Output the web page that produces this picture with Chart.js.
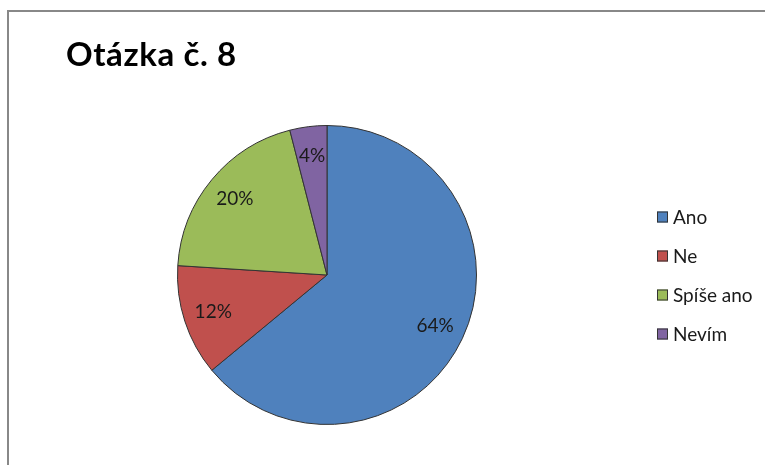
<!DOCTYPE html>
<html>
<head>
<meta charset="utf-8">
<script src="https://cdn.jsdelivr.net/npm/chart.js@4.4.1/dist/chart.umd.min.js"></script>
<style>
  html, body { margin: 0; padding: 0; background: #fff; }
  #wrap { width: 765px; height: 465px; }
</style>
</head>
<body>
<div id="wrap"><canvas id="pieChart" width="765" height="465"></canvas></div>
<script>
// Otázka č. 8 - share of answers
const TITLE = 'Otázka č. 8';
const LABELS = ['Ano', 'Ne', 'Spíše ano', 'Nevím'];
const VALUES = [64, 12, 20, 4];
const COLORS = ['#4F81BD', '#C0504D', '#9BBB59', '#8064A2'];

const FONT = 'Lato, "Noto Sans", sans-serif';

// frame, title, percentage labels and the legend are drawn by hand
const decorations = {
    id: 'decorations',
    beforeDraw(chart) {
        const { ctx } = chart;
        ctx.save();
        ctx.strokeStyle = '#888';
        ctx.lineWidth = 2;
        ctx.beginPath();
        ctx.moveTo(8, 470);
        ctx.lineTo(8, 11);
        ctx.lineTo(770, 11);
        ctx.stroke();
        ctx.restore();
    },
    afterDatasetsDraw(chart) {
        const { ctx } = chart;
        const meta = chart.getDatasetMeta(0);
        ctx.save();

        ctx.fillStyle = '#000';
        ctx.font = 'bold 33px ' + FONT;
        ctx.letterSpacing = '0.6px';
        ctx.textAlign = 'left';
        ctx.textBaseline = 'alphabetic';
        ctx.fillText(TITLE, 66, 66);
        ctx.letterSpacing = '0px';

        ctx.font = '19px ' + FONT;
        ctx.fillStyle = '#1a1a1a';
        ctx.textAlign = 'center';
        ctx.textBaseline = 'middle';
        meta.data.forEach((arc, i) => {
            const mid = (arc.startAngle + arc.endAngle) / 2;
            const d = arc.outerRadius * 0.8;
            ctx.fillText(VALUES[i] + '%', arc.x + Math.cos(mid) * d, arc.y + Math.sin(mid) * d);
        });

        ctx.font = '19px ' + FONT;
        ctx.textAlign = 'left';
        LABELS.forEach((label, i) => {
            const y = 217 + i * 39;
            ctx.fillStyle = COLORS[i];
            ctx.fillRect(657, y - 5.5, 11, 11);
            ctx.strokeStyle = '#333';
            ctx.lineWidth = 1;
            ctx.strokeRect(657.5, y - 5, 10, 10);
            ctx.fillStyle = '#1a1a1a';
            ctx.fillText(label, 673, y + 1);
        });
        ctx.restore();
    }
};

new Chart(document.getElementById('pieChart'), {
    type: 'pie',
    data: {
        labels: LABELS,
        datasets: [{
            data: VALUES,
            backgroundColor: COLORS,
            borderColor: '#333',
            borderWidth: 1
        }]
    },
    options: {
        responsive: false,
        animation: false,
        layout: { padding: { left: 177, right: 288, top: 125, bottom: 40 } },
        plugins: {
            legend: { display: false },
            tooltip: { enabled: false }
        }
    },
    plugins: [decorations]
});
</script>
</body>
</html>
